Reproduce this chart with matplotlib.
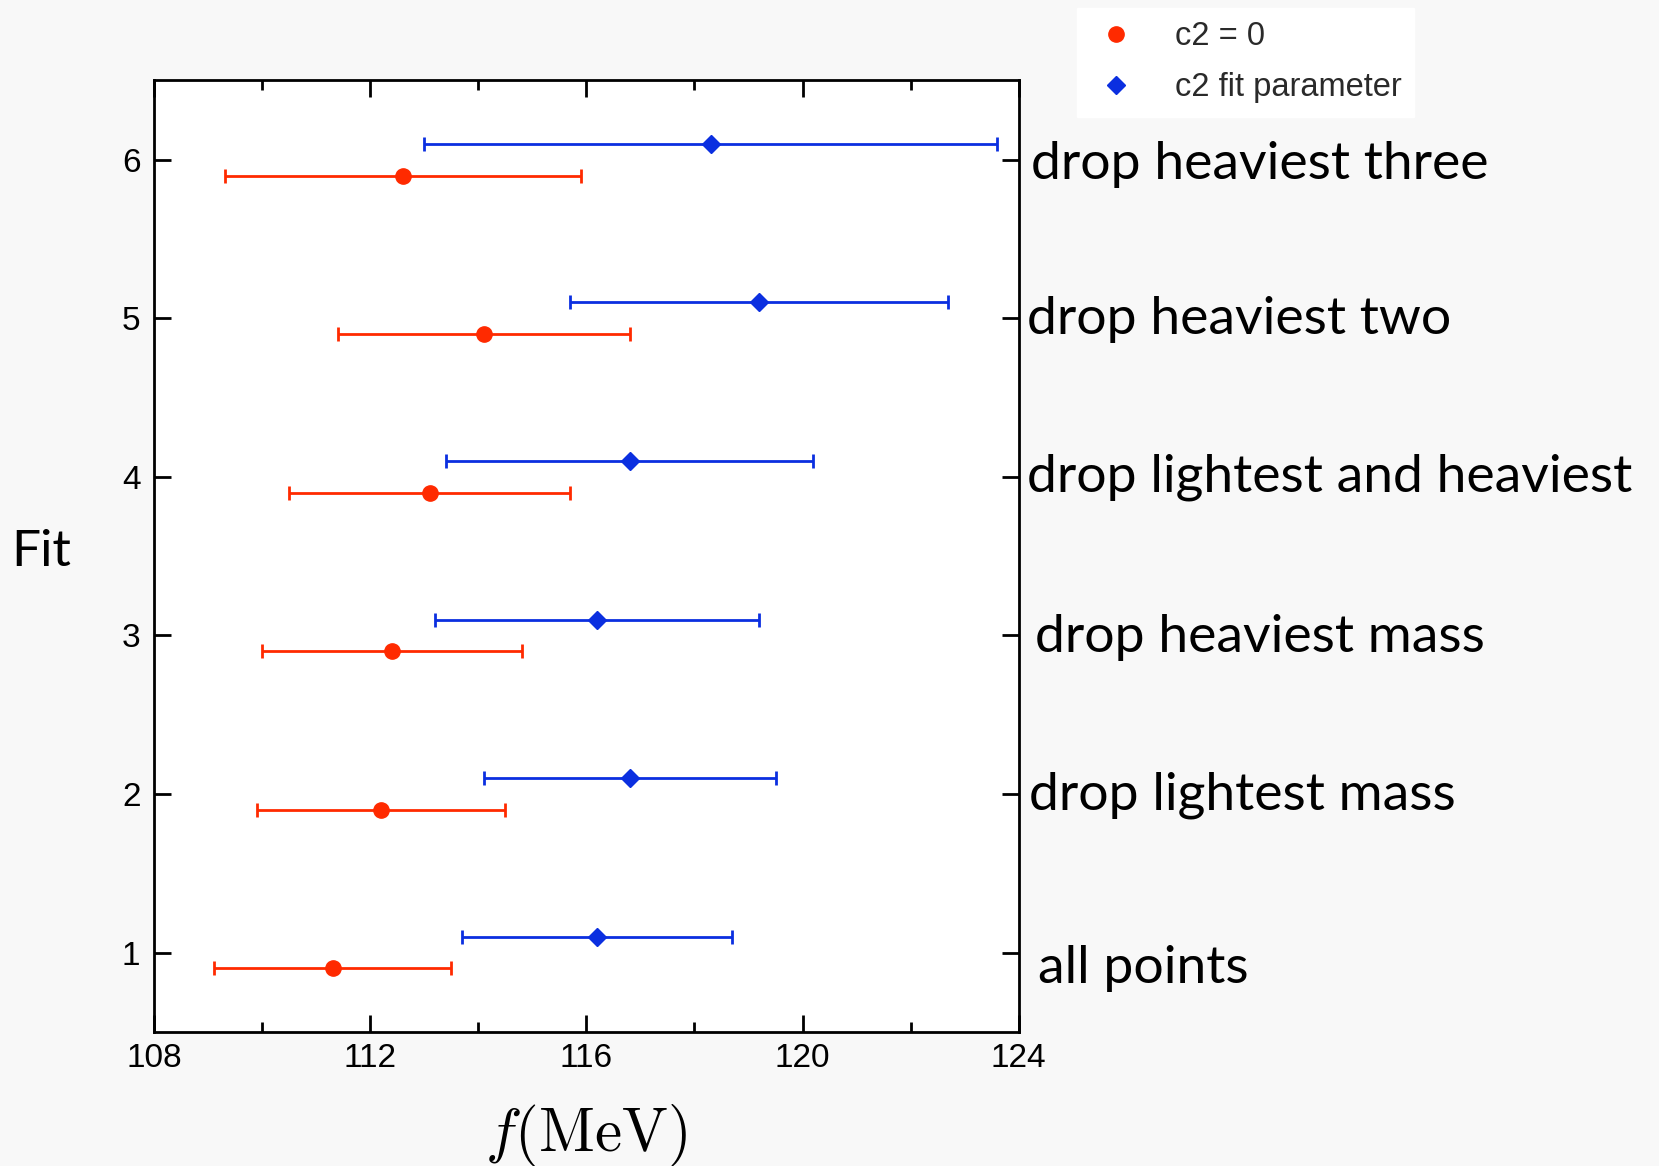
import numpy as np
import matplotlib
matplotlib.use("Agg")
from matplotlib import pyplot as plt

# fit index and the two sets of results (central value, lower and upper ends)
fits = np.array([1, 2, 3, 4, 5, 6])
fit_names = ["all points", "drop lightest mass", "drop heaviest mass",
             "drop lightest and heaviest", "drop heaviest two", "drop heaviest three"]

red_val = np.array([111.3, 112.2, 112.4, 113.1, 114.1, 112.6])
red_lo = np.array([109.1, 109.9, 110.0, 110.5, 111.4, 109.3])
red_hi = np.array([113.5, 114.5, 114.8, 115.7, 116.8, 115.9])

blue_val = np.array([116.2, 116.8, 116.2, 116.8, 119.2, 118.3])
blue_lo = np.array([113.7, 114.1, 113.2, 113.4, 115.7, 113.0])
blue_hi = np.array([118.7, 119.5, 119.2, 120.2, 122.7, 123.6])

red = "#ff2a00"
blue = "#0b2fe0"

plt.rcParams["mathtext.fontset"] = "cm"

fig = plt.figure(figsize=(16.59, 11.66), dpi=100, facecolor="#f8f8f8")
ax = fig.add_axes([0.093, 0.115, 0.521, 0.816])
ax.set_facecolor("white")

ax.errorbar(red_val, fits - 0.1, xerr=[red_val - red_lo, red_hi - red_val],
            fmt="none", ecolor=red, elinewidth=2, capsize=5, capthick=2)
ax.errorbar(blue_val, fits + 0.1, xerr=[blue_val - blue_lo, blue_hi - blue_val],
            fmt="none", ecolor=blue, elinewidth=2, capsize=5, capthick=2)
ax.plot(red_val, fits - 0.1, "o", color=red, ms=11, ls="none", label="c2 = 0")
ax.plot(blue_val, fits + 0.1, "D", color=blue, ms=9, ls="none", label="c2 fit parameter")

ax.set_xlim(108, 124)
ax.set_ylim(0.5, 6.5)
ax.set_xticks([108, 112, 116, 120, 124])
ax.set_xticks([110, 114, 118, 122], minor=True)
ax.set_yticks(fits)
ax.tick_params(axis="both", which="major", direction="in", length=12, width=2,
               top=True, right=True, labelsize=24)
ax.tick_params(axis="x", which="major", pad=8)
ax.tick_params(axis="y", which="major", pad=10)
ax.tick_params(axis="x", which="minor", direction="in", length=7, width=2, top=True)
for lab in ax.get_xticklabels() + ax.get_yticklabels():
    lab.set_family("Liberation Sans")
for s in ax.spines.values():
    s.set_linewidth(2)

ax.set_xlabel(r"$f(\mathrm{MeV})$", fontsize=44, labelpad=20)
fig.text(0.007, 0.527, "Fit", fontsize=37, family="Lato", va="center")

# right-hand labels for each fit
label_y = [0.9, 1.99, 2.99, 4.0, 4.99, 5.97]
label_dx = [0.35, 0.2, 0.3, 0.15, 0.15, 0.23]
for yv, dx, name in zip(label_y, label_dx, fit_names):
    ax.text(124 + dx, yv, name, fontsize=38.5, family="Lato", va="center",
            ha="left", clip_on=False)

leg = fig.legend(loc="upper left", bbox_to_anchor=(0.649, 0.993), borderaxespad=0,
                 frameon=True, fancybox=False, edgecolor="white", framealpha=1,
                 handlelength=1.6, handletextpad=1.0, labelspacing=0.62, borderpad=0.4,
                 prop={"family": "Liberation Sans", "size": 23.5})
for t in leg.get_texts():
    t.set_color("#2a2a2a")

fig.savefig("out.png", dpi=100, facecolor=fig.get_facecolor())
